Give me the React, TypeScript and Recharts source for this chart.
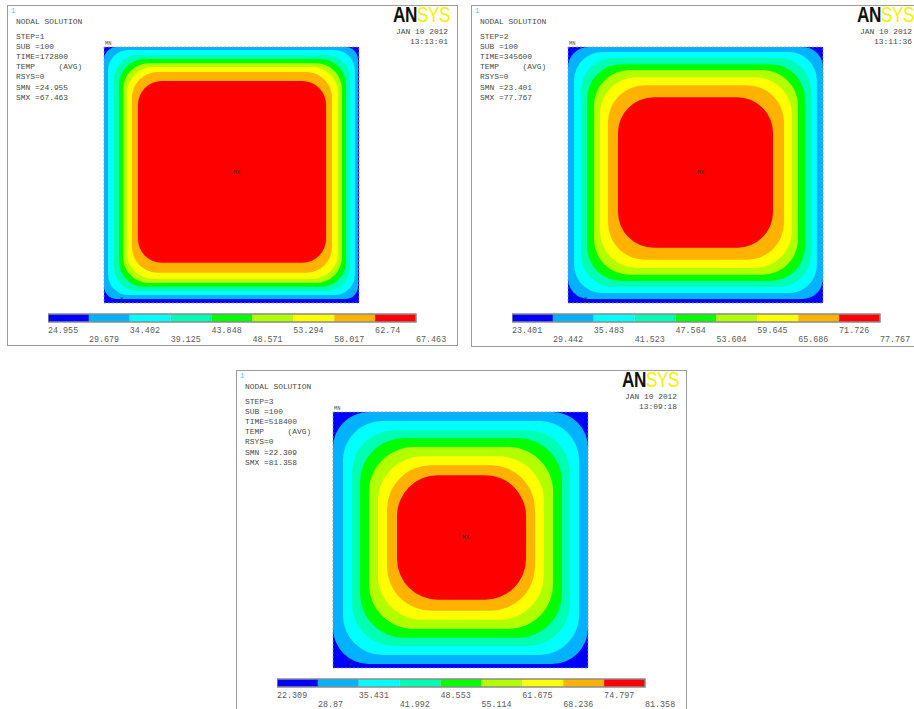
import React from "react";
import { ComposedChart, XAxis, YAxis, ReferenceArea, Scatter, Rectangle } from "recharts";

// ANSYS 9-band palette, coldest to hottest
const levelColors = [
  "#0000ff",
  "#00b2ff",
  "#00ffff",
  "#00ffb2",
  "#00ff00",
  "#b2ff00",
  "#ffff00",
  "#ffb200",
  "#ff0000",
];

// colour bar boundaries (TEMP, AVG)
const step1Bounds = [24.955, 29.679, 34.402, 39.125, 43.848, 48.571, 53.294, 58.017, 62.74, 67.463];
const step2Bounds = [23.401, 29.442, 35.483, 41.523, 47.564, 53.604, 59.645, 65.686, 71.726, 77.767];
const step3Bounds = [22.309, 28.87, 35.431, 41.992, 48.553, 55.114, 61.675, 68.236, 74.797, 81.358];

// header lines
const step1Info = ["STEP=1", "SUB =100", "TIME=172800", "TEMP     (AVG)", "RSYS=0", "SMN =24.955", "SMX =67.463"];
const step2Info = ["STEP=2", "SUB =100", "TIME=345600", "TEMP     (AVG)", "RSYS=0", "SMN =23.401", "SMX =77.767"];
const step3Info = ["STEP=3", "SUB =100", "TIME=518400", "TEMP     (AVG)", "RSYS=0", "SMN =22.309", "SMX =81.358"];

const step1Clock = "13:13:01";
const step2Clock = "13:11:36";
const step3Clock = "13:09:18";

// contour outlines on the plate (% of side): insets left/top/right/bottom, corner radius
// one per band, from the 2nd colour inward
const step1Contours = [
  { l: 0, t: 0, r: 0.4, b: 1.6, rad: 5 },
  { l: 1.6, t: 1.2, r: 1.6, b: 3.1, rad: 8 },
  { l: 3.9, t: 3.1, r: 3.5, b: 4.7, rad: 9.4 },
  { l: 5.9, t: 4.7, r: 5.1, b: 6.3, rad: 10 },
  { l: 7.5, t: 6.3, r: 6.7, b: 7.8, rad: 10.2 },
  { l: 9, t: 7.8, r: 8.2, b: 9.4, rad: 10.2 },
  { l: 11, t: 9.8, r: 10.6, b: 11.8, rad: 10 },
  { l: 13.3, t: 13.3, r: 12.9, b: 15.7, rad: 9.4 },
];
const step2Contours = [
  { l: 0, t: 0, r: 0, b: 1.6, rad: 8 },
  { l: 2.4, t: 2, r: 2.4, b: 3.9, rad: 11 },
  { l: 5.1, t: 4.3, r: 4.7, b: 6.3, rad: 12.5 },
  { l: 7.5, t: 6.7, r: 7.1, b: 8.6, rad: 13.5 },
  { l: 10.2, t: 9, r: 9.8, b: 11, rad: 14 },
  { l: 12.5, t: 11.8, r: 12.2, b: 13.7, rad: 14.5 },
  { l: 15.7, t: 14.9, r: 15.3, b: 16.9, rad: 14.5 },
  { l: 19.6, t: 19.6, r: 19.6, b: 21.6, rad: 14 },
];
const step3Contours = [
  { l: 0, t: 0, r: 0, b: 1.6, rad: 14 },
  { l: 3.9, t: 3.5, r: 3.5, b: 5.1, rad: 15.5 },
  { l: 7.5, t: 7.1, r: 7.1, b: 8.6, rad: 16.5 },
  { l: 10.6, t: 10.2, r: 10.2, b: 11.8, rad: 17.3 },
  { l: 14.1, t: 13.7, r: 13.7, b: 15.3, rad: 17.6 },
  { l: 17.6, t: 17.3, r: 17.3, b: 18.8, rad: 17.6 },
  { l: 21.2, t: 20.8, r: 20.8, b: 22.4, rad: 17.3 },
  { l: 25.1, t: 24.7, r: 24.3, b: 26.7, rad: 16 },
];

// node labels on the plate
const plateMarkers = [
  { x: 0, y: 0, label: "MN" },
  { x: 52, y: 49, label: "MX" },
  { x: 7, y: 98.5, label: "X" },
];

const mono = "'Liberation Mono', 'DejaVu Sans Mono', monospace";
const PLATE = 255;

const MarkerShape = (p: any) => {
  const lab = p.payload.label;
  if (lab === "MN") {
    return (
      <text x={p.cx + 1} y={p.cy - 2} fontFamily={mono} fontSize={5.5} fill="#555">
        {lab}
      </text>
    );
  }
  return (
    <text x={p.cx} y={p.cy + 2} textAnchor="middle" fontFamily={mono} fontSize={6} fill="#333">
      {lab}
    </text>
  );
};

function Contour({ contours }: { contours: any[] }) {
  return (
    <ComposedChart
      width={PLATE + 12}
      height={PLATE + 21}
      margin={{ top: 10, right: 6, bottom: 10, left: 6 }}
      data={plateMarkers}
    >
      <XAxis type="number" dataKey="x" domain={[0, 100]} hide />
      <YAxis type="number" dataKey="y" domain={[0, 100]} reversed hide />
      <ReferenceArea x1={0} x2={100} y1={0} y2={100} fill={levelColors[0]} fillOpacity={1} stroke="none" />
      {contours.map((c, i) => (
        <ReferenceArea
          key={i}
          x1={c.l}
          x2={100 - c.r}
          y1={c.t}
          y2={100 - c.b}
          fill={levelColors[i + 1]}
          fillOpacity={1}
          shape={(p: any) => (
            <Rectangle
              x={p.x}
              y={p.y}
              width={p.width}
              height={p.height}
              radius={(c.rad * PLATE) / 100}
              fill={levelColors[i + 1]}
              stroke="none"
            />
          )}
        />
      ))}
      <ReferenceArea
        x1={0}
        x2={100}
        y1={0}
        y2={100}
        fill="none"
        stroke="#9a9a9a"
        strokeWidth={0.8}
        strokeDasharray="2 2"
      />
      <Scatter data={plateMarkers} shape={MarkerShape} isAnimationActive={false} />
    </ComposedChart>
  );
}

const BarTick = (p: any) => {
  const row = p.index % 2;
  return (
    <text x={p.x} y={p.y + (row ? 12 : 3)} textAnchor="start" fontFamily={mono} fontSize={8.4} fill="#5a5a5a">
      {String(p.payload.value)}
    </text>
  );
};

function ColorBar({ bounds }: { bounds: number[] }) {
  const segs = bounds.slice(0, -1).map((v, i) => ({ from: v, to: bounds[i + 1], color: levelColors[i] }));
  const pts = bounds.map((v) => ({ v, y: 0.5 }));
  return (
    <ComposedChart width={368 + 45} height={36} margin={{ top: 1, right: 45, bottom: 0, left: 0 }} data={pts}>
      <XAxis
        type="number"
        dataKey="v"
        domain={[bounds[0], bounds[bounds.length - 1]]}
        ticks={bounds}
        interval={0}
        tickLine={false}
        axisLine={false}
        height={27}
        tick={BarTick}
      />
      <YAxis type="number" dataKey="y" domain={[0, 1]} hide />
      {segs.map((s, i) => (
        <ReferenceArea key={i} x1={s.from} x2={s.to} y1={0} y2={1} fill={s.color} fillOpacity={1} stroke="none" />
      ))}
      <ReferenceArea
        x1={bounds[0]}
        x2={bounds[bounds.length - 1]}
        y1={0}
        y2={1}
        fill="none"
        stroke="#8c8c8c"
        strokeWidth={1.5}
      />
      <Scatter data={pts} shape={() => <g />} isAnimationActive={false} />
    </ComposedChart>
  );
}

const small: React.CSSProperties = {
  position: "absolute",
  fontFamily: mono,
  fontSize: 7.9,
  lineHeight: "10px",
  color: "#4a4a4a",
  whiteSpace: "pre",
};

function Panel(props: {
  left: number;
  top: number;
  height: number;
  info: string[];
  clock: string;
  bounds: number[];
  contours: any[];
}) {
  const { left, top, height, info, clock, bounds, contours } = props;
  return (
    <div
      style={{
        position: "absolute",
        left,
        top,
        width: 451,
        height,
        border: "1px solid #9c9c9c",
        boxSizing: "border-box",
        background: "#fff",
      }}
    >
      <div style={{ ...small, left: 3, top: 0, color: "#3ccfe8", fontSize: 7 }}>1</div>
      <div style={{ ...small, left: 8, top: 11 }}>NODAL SOLUTION</div>
      {info.map((line, i) => (
        <div key={i} style={{ ...small, left: 8, top: 26 + i * 10.1 }}>
          {line}
        </div>
      ))}
      <div
        style={{
          position: "absolute",
          left: 385,
          top: -2,
          fontFamily: "'Liberation Sans', Arial, sans-serif",
          fontSize: 22,
          lineHeight: "22px",
          transform: "scaleX(0.78)",
          transformOrigin: "left top",
          whiteSpace: "pre",
          letterSpacing: -0.5,
        }}
      >
        <span style={{ fontWeight: 700, color: "#111" }}>AN</span>
        <span style={{ color: "#f2f200" }}>SYS</span>
      </div>
      <div style={{ ...small, left: 388, width: 52, top: 21, textAlign: "right" }}>JAN 10 2012</div>
      <div style={{ ...small, left: 388, width: 52, top: 31, textAlign: "right" }}>{clock}</div>
      <div style={{ position: "absolute", left: 90, top: 31 }}>
        <Contour contours={contours} />
      </div>
      <div style={{ position: "absolute", left: 40, top: 307 }}>
        <ColorBar bounds={bounds} />
      </div>
    </div>
  );
}

export default function App() {
  return (
    <div
      style={{
        position: "absolute",
        left: 0,
        top: 0,
        width: 914,
        height: 709,
        overflow: "hidden",
        background: "#fff",
      }}
    >
      <Panel left={7} top={5} height={341} info={step1Info} clock={step1Clock} bounds={step1Bounds} contours={step1Contours} />
      <Panel left={471} top={5} height={342} info={step2Info} clock={step2Clock} bounds={step2Bounds} contours={step2Contours} />
      <Panel left={236} top={370} height={345} info={step3Info} clock={step3Clock} bounds={step3Bounds} contours={step3Contours} />
    </div>
  );
}
